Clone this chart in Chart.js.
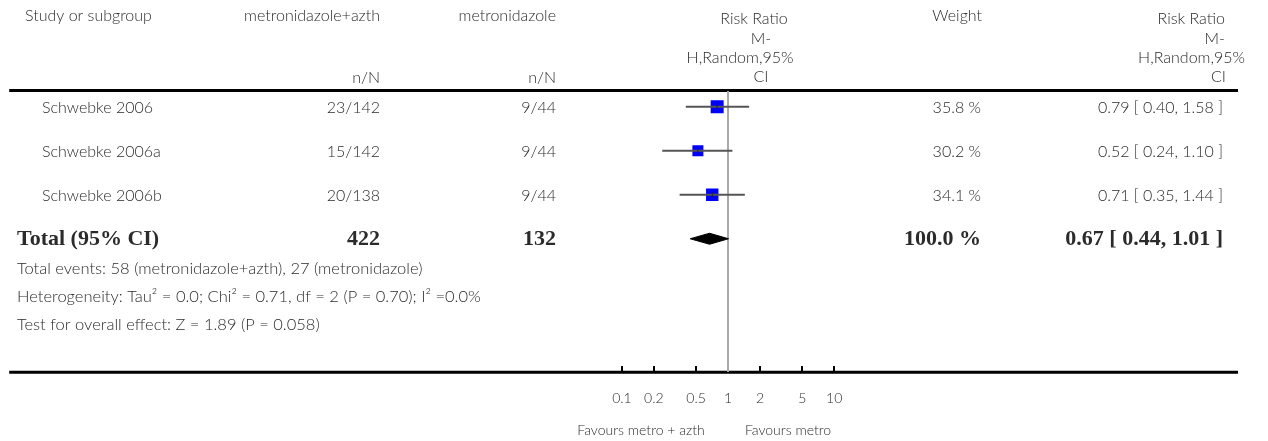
<!DOCTYPE html>
<html>
<head>
<meta charset="utf-8">
<title>Risk Ratio forest plot</title>
<script src="https://cdn.jsdelivr.net/npm/chart.js@4.4.1/dist/chart.umd.min.js"></script>
<style>
  html, body { margin: 0; padding: 0; background: #fff; }
  #wrap { width: 1268px; height: 441px; position: relative; }
</style>
</head>
<body>
<div id="wrap"><canvas id="forest"></canvas></div>
<script>
// study rows
const studies = ["Schwebke 2006", "Schwebke 2006a", "Schwebke 2006b"];
const treatEvents = ["23/142", "15/142", "20/138"];
const controlEvents = ["9/44", "9/44", "9/44"];
const riskRatio = [0.79, 0.52, 0.71];
const ciLow = [0.40, 0.24, 0.35];
const ciHigh = [1.58, 1.10, 1.44];
const weights = [35.8, 30.2, 34.1];

// pooled estimate (random effects)
const pooledRR = 0.67;
const pooledLow = 0.44;
const pooledHigh = 1.01;
const pooledWeight = 100.0;
const totalTreat = 422;
const totalControl = 132;

const footnotes = [
  "Total events: 58 (metronidazole+azth), 27 (metronidazole)",
  "Heterogeneity: Tau\u00B2 = 0.0; Chi\u00B2 = 0.71, df = 2 (P = 0.70); I\u00B2 =0.0%",
  "Test for overall effect: Z = 1.89 (P = 0.058)"
];

const axisTicks = [0.1, 0.2, 0.5, 1, 2, 5, 10];
const favoursLeft = "Favours metro + azth";
const favoursRight = "Favours metro";

const TEXT = "#2b2b2b";
const SANS = "Lato, 'Open Sans', sans-serif";
const SERIF = "'Liberation Serif', 'DejaVu Serif', serif";
const totalRow = studies.length;
const Y_MIN = -0.36, Y_MAX = 6.03;

const fmt = v => v.toFixed(2);

// confidence interval whiskers, one dataset per study
const ciSets = studies.map((s, i) => ({
  label: s + " CI",
  data: [{ x: ciLow[i], y: i }, { x: ciHigh[i], y: i }],
  showLine: true,
  borderColor: "#555555",
  borderWidth: 2,
  pointRadius: 0,
  order: 1
}));

const chart = new Chart(document.getElementById("forest"), {
  type: "scatter",
  data: {
    datasets: [
      // small tick at each point estimate
      {
        label: "estimate",
        data: riskRatio.map((v, i) => ({ x: v, y: i })),
        pointStyle: "line",
        rotation: 90,
        pointRadius: 2.5,
        borderColor: "#222222",
        borderWidth: 1,
        order: 0
      },
      ...ciSets,
      // weighted squares
      {
        label: "studies",
        data: riskRatio.map((v, i) => ({ x: v, y: i })),
        pointStyle: "rect",
        pointRadius: weights.map(w => w * 0.257),
        backgroundColor: "#0000ff",
        borderWidth: 0,
        order: 2
      },
      // pooled diamond
      {
        label: "pooled",
        data: [
          { x: pooledLow, y: totalRow },
          { x: pooledRR, y: totalRow - 0.125 },
          { x: pooledHigh, y: totalRow },
          { x: pooledRR, y: totalRow + 0.125 },
          { x: pooledLow, y: totalRow }
        ],
        showLine: true,
        fill: "shape",
        backgroundColor: "#000000",
        borderColor: "#000000",
        borderWidth: 1,
        pointRadius: 0,
        order: 2
      },
      // line of no effect
      {
        label: "no effect",
        data: [{ x: 1, y: Y_MIN }, { x: 1, y: Y_MAX }],
        showLine: true,
        borderColor: "#aaaaaa",
        borderWidth: 2,
        pointRadius: 0,
        order: 3
      }
    ]
  },
  options: {
    responsive: true,
    maintainAspectRatio: false,
    animation: false,
    events: [],
    layout: { padding: { left: 5, right: 30, top: 91, bottom: 69 } },
    plugins: { legend: { display: false }, tooltip: { enabled: false } },
    scales: {
      x: { type: "logarithmic", display: false, min: 1.687e-7, max: 63826 },
      y: { type: "linear", display: false, reverse: true, min: Y_MIN, max: Y_MAX }
    }
  },
  plugins: [{
    id: "forestTable",
    beforeDatasetsDraw(c) {
      const ctx = c.ctx, a = c.chartArea, xs = c.scales.x;
      ctx.save();
      ctx.strokeStyle = "#000";
      ctx.lineWidth = 3;
      ctx.beginPath();
      ctx.moveTo(a.left, 90.5); ctx.lineTo(a.right, 90.5);
      ctx.moveTo(a.left, 372.3); ctx.lineTo(a.right, 372.3);
      ctx.stroke();
      // axis tick marks
      ctx.lineWidth = 2;
      ctx.beginPath();
      axisTicks.forEach(t => {
        const px = Math.round(xs.getPixelForValue(t));
        ctx.moveTo(px, 366); ctx.lineTo(px, 372);
      });
      ctx.stroke();
      ctx.restore();
    },
    afterDraw(c) {
      const ctx = c.ctx, xs = c.scales.x, ys = c.scales.y;
      const put = (txt, x, y, align, font) => {
        ctx.font = font;
        ctx.textAlign = align;
        ctx.fillText(txt, x, y);
      };
      ctx.save();
      ctx.fillStyle = TEXT;
      ctx.textBaseline = "middle";
      const f = "300 16px " + SANS;

      // header
      put("Study or subgroup", 25, 16, "left", f);
      put("metronidazole+azth", 380, 16, "right", f);
      put("metronidazole", 556, 16, "right", f);
      put("n/N", 380, 78, "right", f);
      put("n/N", 556, 78, "right", f);
      put("Risk Ratio", 754, 19, "center", f);
      put("M-", 761, 38.5, "center", f);
      put("H,Random,95%", 740, 58, "center", f);
      put("CI", 761, 77, "center", f);
      put("Weight", 982, 16, "right", f);
      put("Risk Ratio", 1225, 19, "right", f);
      put("M-", 1225, 38.5, "right", f);
      put("H,Random,95%", 1245, 58, "right", f);
      put("CI", 1226, 77, "right", f);

      // study rows
      studies.forEach((s, i) => {
        const y = ys.getPixelForValue(i) + 1;
        put(s, 42, y, "left", f);
        put(treatEvents[i], 380, y, "right", f);
        put(controlEvents[i], 556, y, "right", f);
        put(weights[i].toFixed(1) + " %", 981, y, "right", f);
        put(fmt(riskRatio[i]) + " [ " + fmt(ciLow[i]) + ", " + fmt(ciHigh[i]) + " ]", 1223, y, "right", f);
      });

      // total row
      const fb = "bold 22px " + SERIF;
      const ty = ys.getPixelForValue(totalRow) + 1;
      put("Total (95% CI)", 17, ty, "left", fb);
      put(String(totalTreat), 380, ty, "right", fb);
      put(String(totalControl), 556, ty, "right", fb);
      put(pooledWeight.toFixed(1) + " %", 981, ty, "right", fb);
      put(fmt(pooledRR) + " [ " + fmt(pooledLow) + ", " + fmt(pooledHigh) + " ]", 1223, ty, "right", fb);

      // footnotes
      const fn = "300 16.5px " + SANS;
      footnotes.forEach((t, i) => put(t, 17, 269 + i * 28, "left", fn));

      // axis labels
      const fs = "300 14px " + SANS;
      axisTicks.forEach(t => put(String(t), xs.getPixelForValue(t), 398, "center", fs));
      put(favoursLeft, 641, 430, "center", fs);
      put(favoursRight, 788, 430, "center", fs);
      ctx.restore();
    }
  }]
});
</script>
</body>
</html>
